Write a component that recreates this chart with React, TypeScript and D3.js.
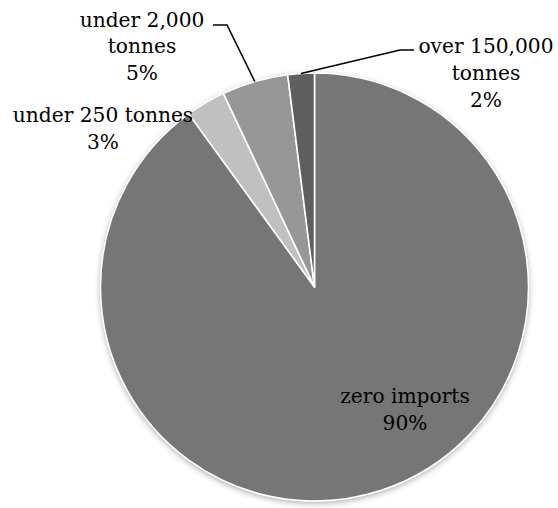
import React from "react";
import * as d3 from "d3";

// Share of sites by annual import volume
const categories = ["zero imports", "under 250 tonnes", "under 2,000 tonnes", "over 150,000 tonnes"];
const shares = [90, 3, 5, 2];
const sliceColors = ["#767676", "#c0c0c0", "#979797", "#5f5f5f"];

// Label text lines, split the way they are drawn
const labelLines = [
  ["zero imports", "90%"],
  ["under 250 tonnes", "3%"],
  ["under 2,000", "tonnes", "5%"],
  ["over 150,000", "tonnes", "2%"],
];

const WIDTH = 558;
const HEIGHT = 508;
const CX = 314.5;
const CY = 287;
const R = 214;
const LINE_GAP = 26.8;
const FONT = "'DejaVu Serif', serif";
const FONT_SIZE = 20.2;

// label anchor: centre x, first baseline y
const labelPos: [number, number][] = [
  [405, 403],
  [103, 122],
  [142, 26.5],
  [486, 53],
];

// leader lines: elbow points (the last point touches the slice edge)
const leaderElbows: ([number, number][] | null)[] = [
  null,
  null,
  [[213, 25], [227, 25]],
  [[414, 50], [400, 50]],
];

export default function App() {
  const pie = d3
    .pie<number>()
    .sort(null)
    .value((d) => d)
    .startAngle(0)
    .endAngle(2 * Math.PI);
  const arcs = pie(shares);
  const arc = d3.arc<d3.PieArcDatum<number>>().innerRadius(0).outerRadius(R);
  const line = d3.line();

  return (
    <svg
      width={WIDTH}
      height={HEIGHT}
      style={{ position: "absolute", left: 0, top: 0, background: "#fff" }}
    >
      <defs>
        <filter id="pieShadow" x="-10%" y="-10%" width="120%" height="120%">
          <feDropShadow dx="0" dy="2" stdDeviation="3" floodColor="#000" floodOpacity="0.35" />
        </filter>
      </defs>
      <g transform={`translate(${CX},${CY})`}>
        <circle r={R} fill="#767676" filter="url(#pieShadow)" />
        {arcs.map((a, i) => (
          <path
            key={categories[i]}
            d={arc(a) || ""}
            fill={sliceColors[i]}
            stroke="#fff"
            strokeWidth={1.6}
            strokeLinejoin="round"
          />
        ))}
      </g>
      {arcs.map((a, i) => {
        const elbows = leaderElbows[i];
        if (!elbows) return null;
        const mid = (a.startAngle + a.endAngle) / 2;
        const edge: [number, number] = [CX + R * Math.sin(mid), CY - R * Math.cos(mid)];
        return (
          <path
            key={"leader-" + i}
            d={line([...elbows, edge]) || ""}
            fill="none"
            stroke="#000"
            strokeWidth={1.6}
          />
        );
      })}
      {labelLines.map((lines, i) => (
        <text
          key={"label-" + i}
          x={labelPos[i][0]}
          y={labelPos[i][1]}
          textAnchor="middle"
          fontFamily={FONT}
          fontSize={FONT_SIZE}
          fill="#000"
        >
          {lines.map((t, j) => (
            <tspan key={j} x={labelPos[i][0]} y={labelPos[i][1] + j * LINE_GAP}>
              {t}
            </tspan>
          ))}
        </text>
      ))}
    </svg>
  );
}
